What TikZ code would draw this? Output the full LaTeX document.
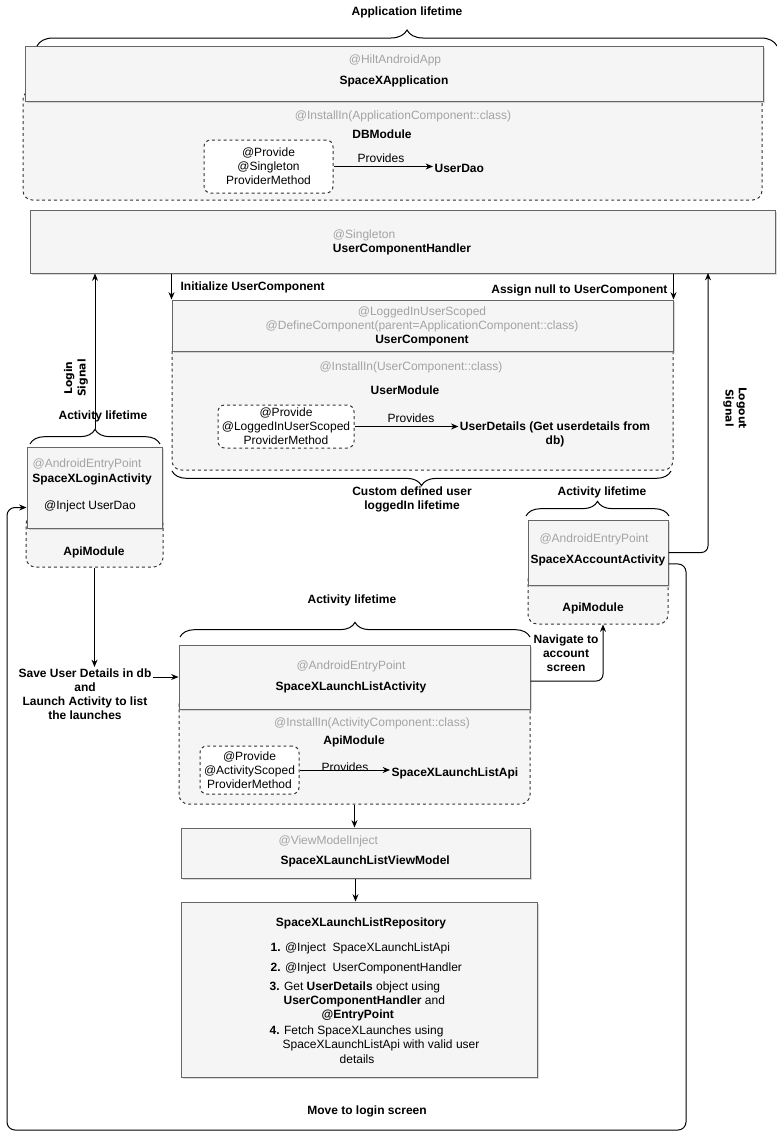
\documentclass[tikz,border=0pt]{standalone}
\usepackage{fontspec}
\setmainfont{Liberation Sans}
\newfontfamily\sigfont{DejaVu Sans}
\usetikzlibrary{arrows.meta,fit,shadows,decorations.pathreplacing}
\definecolor{boxfill}{HTML}{F5F5F5}
\definecolor{boxline}{HTML}{666666}
\definecolor{annot}{HTML}{A3A3A3}
\definecolor{dashline}{HTML}{333333}

\begin{document}
\begin{tikzpicture}[x=0.75pt, y=-0.75pt,
    every node/.style={font=\fontsize{9}{10.5}\selectfont, inner sep=1pt},
    lbl/.style={font=\fontsize{9}{10.5}\selectfont\bfseries},
    note/.style={text=annot},
    box/.style={draw=boxline, fill=boxfill, inner sep=0, line width=0.75pt,
        drop shadow={shadow xshift=1.2pt, shadow yshift=-1.8pt, opacity=0.3}},
    modbox/.style={draw=dashline, fill=boxfill, dash pattern=on 2.2pt off 2.2pt,
        rounded corners=7pt, inner sep=0, line width=0.75pt},
    provbox/.style={draw=dashline, fill=white, dash pattern=on 2.2pt off 2.2pt,
        rounded corners=5pt, align=center, inner sep=0, line width=0.75pt},
    arr/.style={-{Stealth[length=5.5pt, width=4.5pt]}, line width=0.75pt},
    brc/.style={decorate, decoration={brace, amplitude=#1}, line width=0.75pt},
    brc/.default=11pt,
    sig/.style={font=\sigfont\fontsize{8}{10}\selectfont\bfseries, align=center}]
\useasboundingbox (0,0) rectangle (777,1139);

\node[modbox, fit={(23,90) (762,200)}] (dbmod) {};
\node[modbox, fit={(172,340) (673,470)}] (umod) {};
\node[modbox, fit={(26,515) (163,567)}] (loginmod) {};
\node[modbox, fit={(528,570) (668,624)}] (accmod) {};
\node[modbox, fit={(179,695) (530,804)}] (launchmod) {};

\node[box, fit={(25,46) (763,101)}] (app) {};
\node[box, fit={(30,210) (775,273)}] (uch) {};
\node[box, fit={(172,300) (673,351)}] (ucomp) {};
\node[box, fit={(27,447) (162,528)}] (login) {};
\node[box, fit={(528,520) (668,585)}] (acc) {};
\node[box, fit={(179,645) (530,709)}] (launch) {};
\node[box, fit={(181,828) (530,878)}] (vm) {};
\node[box, fit={(181,902) (537,1077)}] (repo) {};

\node[provbox, minimum width=96.75pt, minimum height=39.75pt] (pdb) at (268.5,166.5) {@Provide\\@Singleton\\ProviderMethod};
\node[provbox, minimum width=102pt, minimum height=32.25pt] (pum) at (286,426.5) {@Provide\\@LoggedInUserScoped\\ProviderMethod};
\node[provbox, minimum width=74.25pt, minimum height=36pt] (pla) at (249.5,770) {@Provide\\@ActivityScoped\\ProviderMethod};

\node[lbl] (applife) at (407,12) {Application lifetime};
\node[note] (apphilt) at (395,60) {@HiltAndroidApp};
\node[lbl] (appname) at (394,81) {SpaceXApplication};
\node[note] (dbinst) at (403,116) {@InstallIn(ApplicationComponent::class)};
\node[lbl] (dbname) at (382,134) {DBModule};
\node (dbprov) at (381,158) {Provides};
\node[lbl, anchor=west] (udao) at (433,168) {UserDao};

\node[align=left] (uchtxt) at (402,242) {\textcolor{annot}{@Singleton}\\\textbf{UserComponentHandler}};
\node[lbl, anchor=west] (initlbl) at (179,287) {Initialize UserComponent};
\node[lbl, anchor=east] (nulllbl) at (669,290) {Assign null to UserComponent};
\node[align=center] (uctxt) at (422,326) {\textcolor{annot}{@LoggedInUserScoped}\\\textcolor{annot}{@DefineComponent(parent=ApplicationComponent::class)}\\\textbf{UserComponent}};
\node[note] (uminst) at (411,367) {@InstallIn(UserComponent::class)};
\node[lbl] (umname) at (405,390) {UserModule};
\node (umprov) at (411,418) {Provides};
\node[lbl, align=center] (udet) at (555,434.5) {UserDetails (Get userdetails from\\db)};
\node[lbl, align=center] (custom) at (412,499) {Custom defined user\\loggedIn lifetime};
\node[sig, rotate=90] (loginsig) at (76,378) {Login\\Signal};
\node[sig, rotate=-90] (logoutsig) at (735,408) {Logout\\Signal};

\node[lbl] (llife) at (103,416) {Activity lifetime};
\node[note, anchor=west] (loginep) at (31,464) {@AndroidEntryPoint};
\node[lbl] (loginname) at (92,479) {SpaceXLoginActivity};
\node (logininj) at (90,506) {@Inject UserDao};
\node[lbl] (loginapi) at (94,552) {ApiModule};
\node[lbl, align=center] (save) at (85,694) {Save User Details in db\\and\\Launch Activity to list\\the launches};

\node[lbl] (rlife) at (602,492) {Activity lifetime};
\node[note] (accep) at (594,539) {@AndroidEntryPoint};
\node[lbl] (accname) at (598,560) {SpaceXAccountActivity};
\node[lbl] (accapi) at (593,608) {ApiModule};
\node[lbl, align=center] (nav) at (566,653) {Navigate to\\account\\screen};

\node[lbl] (mlife) at (352,600) {Activity lifetime};
\node[note] (launchep) at (351,666) {@AndroidEntryPoint};
\node[lbl] (launchname) at (351,687) {SpaceXLaunchListActivity};
\node[note] (lminst) at (372,723) {@InstallIn(ActivityComponent::class)};
\node[lbl] (lmname) at (354,741) {ApiModule};
\node (lmprov) at (345,767) {Provides};
\node[lbl, anchor=west] (lapi) at (390,773) {SpaceXLaunchListApi};
\node[note, anchor=west] (vmnote) at (277,841) {@ViewModelInject};
\node[lbl, anchor=west] (vmname) at (279,861) {SpaceXLaunchListViewModel};

\node[lbl] (repotitle) at (361,923) {SpaceXLaunchListRepository};
\node[anchor=west] (r1) at (269,948) {\textbf{1.} @Inject\ \ SpaceXLaunchListApi};
\node[anchor=west] (r2) at (269,968) {\textbf{2.} @Inject\ \ UserComponentHandler};
\node[anchor=west] (r3a) at (268,987) {\textbf{3.} Get \textbf{UserDetails} object using};
\node[anchor=west] (r3b) at (282,1001) {\textbf{UserComponentHandler} and};
\node[anchor=west] (r3c) at (320,1015) {\textbf{@EntryPoint}};
\node[anchor=west] (r4a) at (268,1031) {\textbf{4.} Fetch SpaceXLaunches using};
\node[anchor=west] (r4b) at (281,1045) {SpaceXLaunchListApi with valid user};
\node (r4c) at (357,1059) {details};
\node[lbl] (move) at (367,1111) {Move to login screen};

\draw[brc=12pt] (37,46) -- (777,46);
\draw[brc] (30,444) -- (160,444);
\draw[brc] (526,516) -- (669,516);
\draw[brc] (180,637) -- (530,637);
\draw[brc] (671,471) -- (172,471);

\coordinate (lbt) at (95,429);
\coordinate (logx) at (708,273);
\coordinate (mvr) at (686,1130);
\coordinate (mvl) at (7,1130);

\draw[arr] (pdb) -- (pdb -| udao.west);
\draw[arr] (pum) -- (pum -| udet.west);
\draw[arr] (pla) -- (pla -| lapi.west);
\draw[arr] (lbt) -- (lbt |- uch.south);
\draw[arr] (ucomp.north west |- uch.south) -- (ucomp.north west);
\draw[arr] (ucomp.north east |- uch.south) -- (ucomp.north east);
\draw[arr, rounded corners=5pt] (acc.east) -| (logx);
\draw[arr, rounded corners=6pt] ([yshift=-8.6pt]acc.east) -| (mvr) -- (mvl) |- ([yshift=-15pt]login.west);
\draw[arr] (loginmod.south) -- (loginmod.south |- save.north);
\draw[arr] (save.east |- launch.west) -- (launch.west);
\draw[arr, rounded corners=5pt] ([yshift=-3pt]launch.east) -| ([xshift=3.75pt]accmod.south);
\draw[arr] (launchmod.south) -- (launchmod.south |- vm.north);
\draw[arr] (vm.south) -- (vm.south |- repo.north);
\end{tikzpicture}
\end{document}
